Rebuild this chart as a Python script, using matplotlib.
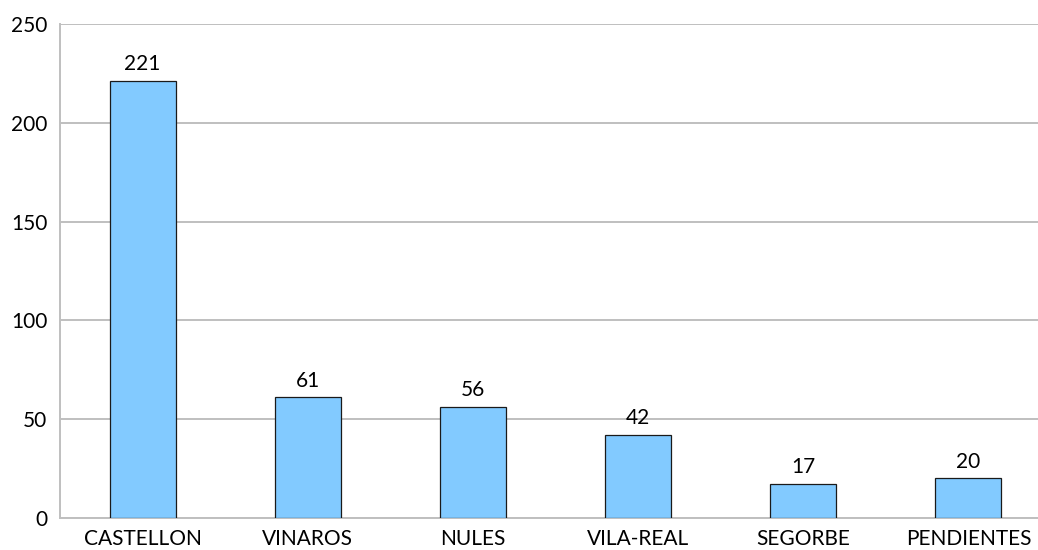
import matplotlib
matplotlib.use("Agg")
import matplotlib.pyplot as plt

# data
regions = ["CASTELLON", "VINAROS", "NULES", "VILA-REAL", "SEGORBE", "PENDIENTES"]
counts = [221, 61, 56, 42, 17, 20]
yticks = [0, 50, 100, 150, 200, 250]

plt.rcParams['font.family'] = ['Lato', 'DejaVu Sans']

W, H = 1038, 550
fig = plt.figure(figsize=(W / 100, H / 100), dpi=100)
# plot area runs a little past the right edge of the picture
ax = fig.add_axes([60 / W, 32 / H, (1051 - 60) / W, (518 - 24) / H])

x = list(range(len(regions)))
bars = ax.bar(x, counts, width=0.4, color="#82CAFF", edgecolor="#1a1a1a",
              linewidth=0.9, zorder=3)
for b, v in zip(bars, counts):
    ax.annotate(str(v), (b.get_x() + b.get_width() / 2, v), xytext=(0, 5),
                textcoords="offset points", ha="center", va="bottom", fontsize=15)

ax.set_xlim(-0.5, len(regions) - 0.5)
ax.set_ylim(0, 250)
ax.set_yticks(yticks)
ax.set_xticks(x)
ax.set_xticklabels(regions)
ax.tick_params(axis="both", length=0, labelsize=15)
ax.tick_params(axis="y", pad=9)
ax.tick_params(axis="x", pad=8)
ax.grid(axis="y", color="#bfbfbf", linewidth=1.4, zorder=0)

for s in ["top", "right"]:
    ax.spines[s].set_visible(False)
ax.spines["left"].set_color("#bfbfbf")
ax.spines["bottom"].set_color("#bfbfbf")
ax.spines["left"].set_linewidth(1.4)
ax.spines["bottom"].set_linewidth(1.4)

fig.savefig("out.png", dpi=100)
